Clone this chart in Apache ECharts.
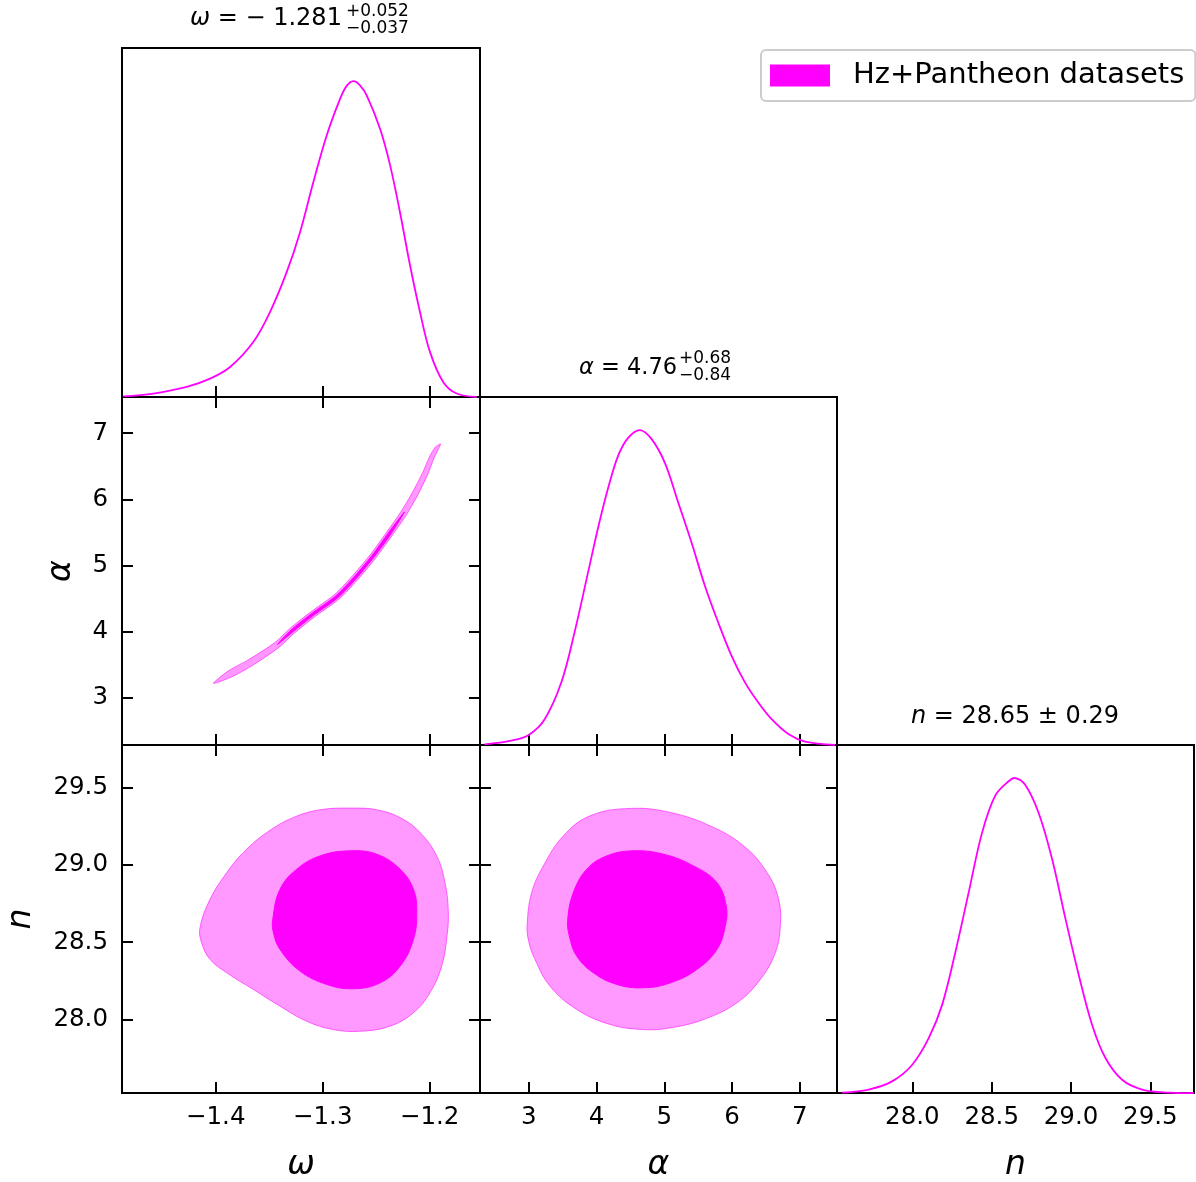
<!DOCTYPE html>
<html>
<head>
<meta charset="utf-8">
<script src="https://cdn.jsdelivr.net/npm/echarts@6/dist/echarts.min.js"></script>
<style>
html, body { margin: 0; padding: 0; background: #fff; }
#main { width: 1196px; height: 1182px; }
</style>
</head>
<body>
<div id="main"></div>
<script>
var FONT = 'DejaVu Sans';
var MAGENTA = '#ff00ff';
var legendName = 'Hz+Pantheon datasets';

// axis ranges and ticks
var omegaRange = [-1.4876, -1.153];
var alphaRange = [2.282, 7.548];
var nRange = [27.525, 29.775];
var densMax = 1.105;
var omegaTicks = [-1.4, -1.3, -1.2];
var alphaTicks = [3, 4, 5, 6, 7];
var nTicks = [28.0, 28.5, 29.0, 29.5];

// 1D marginals (peak normalised to 1)
var omegaGrid1D = [-1.4864, -1.4583, -1.4271, -1.4053, -1.3866, -1.3649, -1.3493, -1.3336, -1.3212, -1.3088, -1.2963, -1.2838, -1.2776, -1.2714, -1.2652, -1.2589, -1.2465, -1.2371, -1.2278, -1.2184, -1.2091, -1.1997, -1.1873, -1.1748, -1.1561];
var omegaDensity = [0.002, 0.011, 0.032, 0.058, 0.095, 0.174, 0.269, 0.396, 0.522, 0.680, 0.828, 0.944, 0.985, 1.0, 0.987, 0.955, 0.850, 0.735, 0.585, 0.417, 0.269, 0.142, 0.047, 0.011, 0.0];

var alphaGrid1D = [2.350, 2.743, 3.0, 3.236, 3.482, 3.679, 3.876, 4.024, 4.171, 4.319, 4.467, 4.640, 4.811, 5.009, 5.206, 5.402, 5.600, 5.796, 5.993, 6.190, 6.387, 6.584, 6.830, 7.077, 7.52];
var alphaDensity = [0.002, 0.014, 0.032, 0.082, 0.199, 0.360, 0.548, 0.690, 0.815, 0.918, 0.975, 1.0, 0.972, 0.896, 0.770, 0.643, 0.505, 0.389, 0.283, 0.199, 0.135, 0.082, 0.035, 0.011, 0.0];

var nGrid1D = [27.557, 27.724, 27.872, 27.998, 28.103, 28.187, 28.271, 28.355, 28.439, 28.523, 28.607, 28.649, 28.712, 28.796, 28.881, 28.965, 29.049, 29.133, 29.217, 29.322, 29.448, 29.616, 29.774];
var nDensity = [0.001, 0.011, 0.037, 0.089, 0.174, 0.279, 0.447, 0.637, 0.826, 0.945, 0.990, 1.0, 0.978, 0.889, 0.742, 0.553, 0.374, 0.216, 0.111, 0.042, 0.011, 0.001, 0.0];

// 2D contours [x, y]
var omegaAlphaOuter = [[-1.4021, 3.215], [-1.3882, 3.404], [-1.3696, 3.570], [-1.3445, 3.835], [-1.3307, 4.045], [-1.3118, 4.289], [-1.2889, 4.560], [-1.2721, 4.843], [-1.2550, 5.174], [-1.2395, 5.520], [-1.2272, 5.805], [-1.2162, 6.103], [-1.2067, 6.401], [-1.1998, 6.657], [-1.1947, 6.790], [-1.1899, 6.838],
  [-1.1917, 6.766], [-1.1959, 6.626], [-1.2021, 6.368], [-1.2113, 6.060], [-1.2222, 5.753], [-1.2347, 5.463], [-1.2504, 5.113], [-1.2676, 4.779], [-1.2850, 4.487], [-1.3082, 4.213], [-1.3267, 3.973], [-1.3409, 3.759], [-1.3663, 3.480], [-1.3850, 3.313]];
var omegaAlphaInner = [[-1.3422, 3.805], [-1.3295, 4.024], [-1.3108, 4.266], [-1.2877, 4.539], [-1.2707, 4.825], [-1.2536, 5.156], [-1.2381, 5.504], [-1.2236, 5.809],
  [-1.2361, 5.480], [-1.2518, 5.132], [-1.2689, 4.797], [-1.2861, 4.508], [-1.3093, 4.236], [-1.3279, 3.994]];

var omegaNOuter = [[-1.4147, 28.594], [-1.4053, 28.777], [-1.3897, 28.950], [-1.3742, 29.080], [-1.3523, 29.209], [-1.3275, 29.306], [-1.3025, 29.356], [-1.2714, 29.367], [-1.2495, 29.356], [-1.2277, 29.306], [-1.2090, 29.209], [-1.1935, 29.058], [-1.1857, 28.885], [-1.1826, 28.691], [-1.1842, 28.518], [-1.1888, 28.345], [-1.1998, 28.173], [-1.2154, 28.043], [-1.2372, 27.957], [-1.2652, 27.924], [-1.2902, 27.935], [-1.3150, 27.989], [-1.3399, 28.086], [-1.3648, 28.194], [-1.3897, 28.302], [-1.4053, 28.389], [-1.4132, 28.497]];
var omegaNInner = [[-1.3467, 28.648], [-1.3399, 28.842], [-1.3243, 28.972], [-1.3025, 29.058], [-1.2745, 29.091], [-1.2495, 29.069], [-1.2277, 28.972], [-1.2152, 28.842], [-1.2121, 28.691], [-1.2152, 28.518], [-1.2277, 28.345], [-1.2464, 28.237], [-1.2714, 28.199], [-1.2963, 28.227], [-1.3212, 28.313], [-1.3399, 28.453], [-1.3461, 28.562]];

var alphaNOuter = [[2.979, 28.626], [3.044, 28.821], [3.216, 28.993], [3.511, 29.187], [3.905, 29.317], [4.496, 29.365], [5.087, 29.339], [5.678, 29.252], [6.170, 29.123], [6.516, 28.950], [6.687, 28.777], [6.712, 28.604], [6.638, 28.432], [6.417, 28.259], [6.072, 28.108], [5.579, 28.000], [5.087, 27.946], [4.693, 27.935], [4.201, 27.968], [3.709, 28.065], [3.315, 28.216], [3.093, 28.389], [2.994, 28.518]];
var alphaNInner = [[3.576, 28.648], [3.659, 28.821], [3.857, 28.972], [4.152, 29.058], [4.545, 29.091], [4.988, 29.069], [5.432, 28.993], [5.777, 28.885], [5.914, 28.734], [5.900, 28.604], [5.777, 28.453], [5.482, 28.324], [5.087, 28.237], [4.693, 28.205], [4.300, 28.227], [3.954, 28.302], [3.709, 28.410], [3.600, 28.540]];

function zip(xs, ys) {
	var out = [];
	for (var i = 0; i < xs.length; i++) {
		out.push([xs[i], ys[i]]);
	}
	return out;
}

function fmtOmega(v) { return v.toFixed(1).replace('-', '\u2212'); }
function fmtAlpha(v) { return String(Math.round(v)); }
function fmtN(v) { return v.toFixed(1); }

function tickAxis(grid, pos, range, ticks, label) {
	var ax = {
		gridIndex: grid, type: 'value', position: pos,
		min: range[0], max: range[1],
		axisLine: { show: false },
		splitLine: { show: false },
		axisTick: { show: true, inside: true, length: 11, customValues: ticks, lineStyle: { color: '#000', width: 2 } },
		axisLabel: { show: false }
	};
	if (label) {
		ax.axisLabel = { show: true, customValues: ticks, formatter: label.fmt, fontSize: 24.5, fontFamily: FONT, color: '#000', margin: label.margin };
		ax.name = label.name;
		ax.nameLocation = 'middle';
		ax.nameGap = label.gap;
		ax.nameTextStyle = { fontSize: 33, fontStyle: 'italic', fontFamily: FONT, color: '#000' };
	}
	return ax;
}

function densAxis(grid) {
	return { gridIndex: grid, type: 'value', min: 0, max: densMax, show: false };
}

function panel(left, top, w, h) {
	return { left: left, top: top, width: w, height: h, show: true, borderColor: '#000', borderWidth: 2, backgroundColor: 'transparent', outerBoundsMode: 'none' };
}

// smooth 1D curve through the axes
function curveSeries(xi, yi, xs, ys) {
	var pts = zip(xs, ys);
	return {
		type: 'custom', xAxisIndex: xi, yAxisIndex: yi, data: pts,
		encode: { x: 0, y: 1 }, silent: true, itemStyle: { color: MAGENTA },
		renderItem: function (params, api) {
			if (params.dataIndex !== 0) return;
			var coords = [];
			for (var i = 0; i < pts.length; i++) {
				coords.push(api.coord(pts[i]));
			}
			return {
				type: 'polyline',
				shape: { points: coords, smooth: 0.35 },
				style: { stroke: MAGENTA, lineWidth: 1.8, fill: null }
			};
		}
	};
}

// closed filled contour
function contourSeries(name, xi, yi, pts, fill, stroke, smooth) {
	return {
		type: 'custom', name: name, xAxisIndex: xi, yAxisIndex: yi, data: pts,
		encode: { x: 0, y: 1 }, silent: true, itemStyle: { color: MAGENTA },
		renderItem: function (params, api) {
			if (params.dataIndex !== 0) return;
			var coords = [];
			for (var i = 0; i < pts.length; i++) {
				coords.push(api.coord(pts[i]));
			}
			return {
				type: 'polygon',
				shape: { points: coords, smooth: smooth },
				style: { fill: fill, stroke: stroke, lineWidth: 1 }
			};
		}
	};
}

function italic(size) {
	return { i: { fontStyle: 'italic', fontFamily: FONT, fontSize: size, fill: '#000' } };
}

function titleText(x, y, text, size, align) {
	return {
		type: 'text', x: x, y: y,
		style: { text: text, rich: italic(size), fontSize: size, fontFamily: FONT, fill: '#000', align: align || 'left', verticalAlign: 'middle' }
	};
}

var outerFill = 'rgba(255,0,255,0.4)';
var outerStroke = 'rgba(255,0,255,0.55)';

var option = {
	animation: false,
	backgroundColor: '#fff',
	textStyle: { fontFamily: FONT },
	grid: [
		panel(122, 48, 358, 349),
		panel(122, 397, 358, 348),
		panel(480, 397, 357, 348),
		panel(122, 745, 358, 348),
		panel(480, 745, 357, 348),
		panel(837, 745, 357, 348)
	],
	xAxis: [
		tickAxis(0, 'bottom', omegaRange, omegaTicks),
		tickAxis(1, 'bottom', omegaRange, omegaTicks),
		tickAxis(1, 'top', omegaRange, omegaTicks),
		tickAxis(2, 'bottom', alphaRange, alphaTicks),
		tickAxis(3, 'bottom', omegaRange, omegaTicks, { fmt: fmtOmega, name: '\u03c9', gap: 56, margin: 12 }),
		tickAxis(3, 'top', omegaRange, omegaTicks),
		tickAxis(4, 'bottom', alphaRange, alphaTicks, { fmt: fmtAlpha, name: '\u03b1', gap: 56, margin: 12 }),
		tickAxis(4, 'top', alphaRange, alphaTicks),
		tickAxis(5, 'bottom', nRange, nTicks, { fmt: fmtN, name: 'n', gap: 56, margin: 12 })
	],
	yAxis: [
		densAxis(0),
		tickAxis(1, 'left', alphaRange, alphaTicks, { fmt: fmtAlpha, name: '\u03b1', gap: 44, margin: 14 }),
		tickAxis(1, 'right', alphaRange, alphaTicks),
		densAxis(2),
		tickAxis(3, 'left', nRange, nTicks, { fmt: fmtN, name: 'n', gap: 84, margin: 14 }),
		tickAxis(3, 'right', nRange, nTicks),
		tickAxis(4, 'left', nRange, nTicks),
		tickAxis(4, 'right', nRange, nTicks),
		densAxis(5)
	],
	legend: {
		left: 761, top: 50,
		data: [{ name: legendName, icon: 'rect', itemStyle: { color: MAGENTA } }],
		itemWidth: 60, itemHeight: 22,
		padding: [11, 11, 11, 9],
		borderColor: '#cccccc', borderWidth: 2, borderRadius: 5,
		backgroundColor: '#fff',
		selectedMode: false,
		textStyle: { fontSize: 29, fontFamily: FONT, color: '#000', padding: [0, 0, 0, 18] }
	},
	graphic: [
		titleText(190, 19, '{i|\u03c9} = \u2212 1.281', 24),
		titleText(346, 12, '+0.052', 17),
		titleText(346, 29, '\u22120.037', 17),
		titleText(579, 368, '{i|\u03b1} = 4.76', 22.5),
		titleText(679, 359, '+0.68', 17),
		titleText(679, 376, '\u22120.84', 17),
		titleText(1015, 717, '{i|n} = 28.65 \u00b1 0.29', 24, 'center')
	],
	series: [
		contourSeries(legendName, 1, 1, omegaAlphaOuter, outerFill, outerStroke, 0.25),
		contourSeries('wa-inner', 1, 1, omegaAlphaInner, MAGENTA, MAGENTA, 0.25),
		contourSeries('wn-outer', 4, 4, omegaNOuter, outerFill, outerStroke, 0.4),
		contourSeries('wn-inner', 4, 4, omegaNInner, MAGENTA, MAGENTA, 0.4),
		contourSeries('an-outer', 6, 6, alphaNOuter, outerFill, outerStroke, 0.4),
		contourSeries('an-inner', 6, 6, alphaNInner, MAGENTA, MAGENTA, 0.4),
		curveSeries(0, 0, omegaGrid1D, omegaDensity),
		curveSeries(3, 3, alphaGrid1D, alphaDensity),
		curveSeries(8, 8, nGrid1D, nDensity)
	]
};

var myChart = echarts.init(document.getElementById('main'));
myChart.setOption(option);
</script>
</body>
</html>
